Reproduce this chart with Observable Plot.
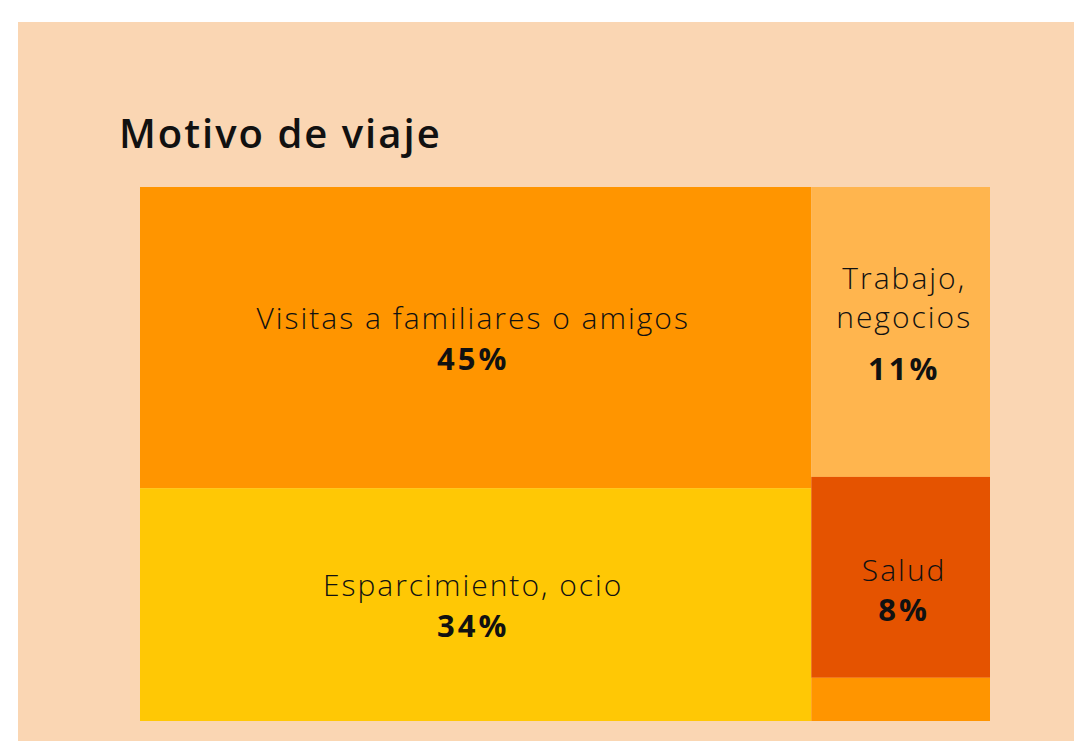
<!DOCTYPE html>
<html>
<head>
<meta charset="utf-8">
<script src="https://cdn.jsdelivr.net/npm/d3@7"></script>
<script src="https://cdn.jsdelivr.net/npm/@observablehq/plot@0.6"></script>
<style>
  html, body { margin: 0; padding: 0; background: #ffffff; }
  #panel { position: absolute; left: 18px; top: 22px; width: 1056px; height: 719px; background: #FAD6B3; overflow: hidden; }
  #title { position: absolute; left: 101px; top: 91px; margin: 0; font-family: "Open Sans", Lato, sans-serif; font-weight: 600; font-size: 40px; letter-spacing: 2px; line-height: 1; color: #111; }
  #chart { position: absolute; left: 0; top: 0; }
  #chart svg text { letter-spacing: 2px; }
  #chart svg g[font-weight="bold"] text { letter-spacing: 3px; }
</style>
</head>
<body>
<div id="panel">
  <div id="chart"></div>
  <h2 id="title">Motivo de viaje</h2>
</div>
<script>
// Data
const categories = ["Visitas a familiares o amigos", "Esparcimiento, ocio", "Trabajo,\nnegocios", "Salud", "Otros"];
const values = [44.5, 34.4, 11.4, 7.9, 1.7];
const groups = ["A", "A", "B", "B", "B"];
const palette = ["#FF9500", "#FFC805", "#FFB54E", "#E55300", "#FF9500"];

// Simple two-column slice treemap built from the values
const groupNames = ["A", "B"];
const groupTotals = groupNames.map(g => d3.sum(values.filter((v, i) => groups[i] === g)));
const total = d3.sum(groupTotals);
const rows = [];
let xAcc = 0;
groupNames.forEach((g, gi) => {
  let yAcc = 0;
  categories.forEach((c, i) => {
    if (groups[i] !== g) return;
    const frac = values[i] / groupTotals[gi];
    rows.push({name: c, value: values[i], group: g, x1: xAcc, x2: xAcc + groupTotals[gi], y1: yAcc, y2: yAcc + frac});
    yAcc += frac;
  });
  xAcc += groupTotals[gi];
});
rows.forEach(d => { d.xm = (d.x1 + d.x2) / 2; d.ym = (d.y1 + d.y2) / 2; d.pct = Math.round(d.value) + "%"; });

const font = "'Open Sans', Lato, sans-serif";
const labeled = rows.filter(d => d.value >= 5);
const left = labeled.filter(d => d.group === "A");
const right = labeled.filter(d => d.group === "B");
const trabajo = right.filter(d => d.name.includes("\n"));
const salud = right.filter(d => !d.name.includes("\n"));

const chart = Plot.plot({
  width: 1056,
  height: 719,
  marginLeft: 122,
  marginRight: 84,
  marginTop: 165,
  marginBottom: 20,
  x: {domain: [0, total], axis: null},
  y: {domain: [0, 1], reverse: true, axis: null},
  color: {domain: categories, range: palette},
  style: {background: "transparent", fontFamily: font, color: "#111"},
  marks: [
    Plot.rect(rows, {x1: "x1", x2: "x2", y1: "y1", y2: "y2", fill: "name"}),
    Plot.text(left, {x: "xm", y: "ym", text: "name", lineAnchor: "bottom", dx: -3, dy: -9, fontSize: 30, fontWeight: 350, fill: "#111"}),
    Plot.text(left, {x: "xm", y: "ym", text: "pct", lineAnchor: "bottom", dx: -3, dy: 32, fontSize: 31, fontWeight: "bold", fill: "#111"}),
    Plot.text(trabajo, {x: "xm", y: "ym", text: "name", lineAnchor: "bottom", dx: 3, dy: -4, lineHeight: 1.33, fontSize: 30, fontWeight: 350, fill: "#111"}),
    Plot.text(trabajo, {x: "xm", y: "ym", text: "pct", lineAnchor: "bottom", dx: 3, dy: 48, fontSize: 31, fontWeight: "bold", fill: "#111"}),
    Plot.text(salud, {x: "xm", y: "ym", text: "name", lineAnchor: "bottom", dx: 3, dy: 3, fontSize: 30, fontWeight: 350, fill: "#111"}),
    Plot.text(salud, {x: "xm", y: "ym", text: "pct", lineAnchor: "bottom", dx: 3, dy: 43, fontSize: 31, fontWeight: "bold", fill: "#111"})
  ]
});
document.getElementById("chart").appendChild(chart);
</script>
</body>
</html>
